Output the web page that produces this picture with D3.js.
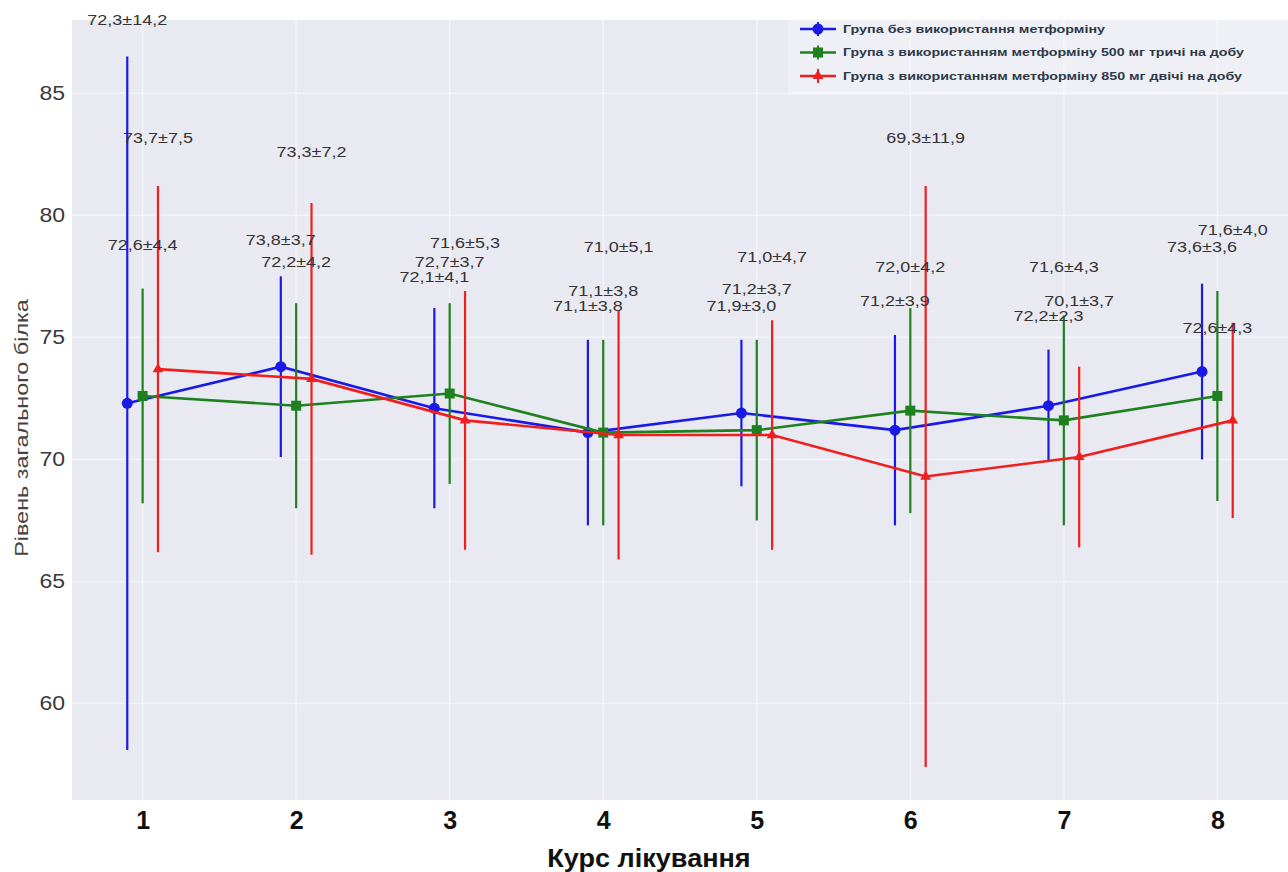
<!DOCTYPE html>
<html>
<head>
<meta charset="utf-8">
<script src="https://cdn.jsdelivr.net/npm/d3@7"></script>
<style>
  html, body { margin: 0; padding: 0; background: #ffffff; }
  svg { display: block; }
</style>
</head>
<body>
<svg id="chart" width="1288" height="872"></svg>
<script>
// Treatment courses
const courses = [1, 2, 3, 4, 5, 6, 7, 8];
const xTicks = [1, 2, 3, 4, 5, 6, 7, 8];
const yTicks = [60, 65, 70, 75, 80, 85];

// Group names
const seriesNames = [
  "Група без використання метформіну",
  "Група з використанням метформіну 500 мг тричі на добу",
  "Група з використанням метформіну 850 мг двічі на добу"
];

// Mean total protein level per course
const meanNoMetformin = [72.3, 73.8, 72.1, 71.1, 71.9, 71.2, 72.2, 73.6];
const mean500 = [72.6, 72.2, 72.7, 71.1, 71.2, 72.0, 71.6, 72.6];
const mean850 = [73.7, 73.3, 71.6, 71.0, 71.0, 69.3, 70.1, 71.6];

// Standard deviation per course
const sdNoMetformin = [14.2, 3.7, 4.1, 3.8, 3.0, 3.9, 2.3, 3.6];
const sd500 = [4.4, 4.2, 3.7, 3.8, 3.7, 4.2, 4.3, 4.3];
const sd850 = [7.5, 7.2, 5.3, 5.1, 4.7, 11.9, 3.7, 4.0];

const xLabel = "Курс лікування";
const yLabel = "Рівень загального білка";

// ---- layout / style ----
const plot = { left: 72, right: 1288, top: 20, bottom: 800 };
const colors = ["#1a1ae6", "#1f801f", "#f01e1e"];
const xShift = [-0.1, 0, 0.1];
// vertical lift of each value label above its whisker, in data units
const labelLift = [
  [1.5, 1.5, 1.3, 1.4, 1.4, 1.4, 1.4, 1.5],
  [1.8, 1.7, 1.7, 2.0, 2.1, 1.7, 2.0, -1.5],
  [2.0, 2.1, 2.0, 2.6, 2.6, 2.0, 2.7, 3.8]
];

const series = [
  { name: seriesNames[0], mean: meanNoMetformin, sd: sdNoMetformin },
  { name: seriesNames[1], mean: mean500, sd: sd500 },
  { name: seriesNames[2], mean: mean850, sd: sd850 }
];

const svg = d3.select("#chart");

const x = d3.scaleLinear().domain([0.54, 8.46]).range([plot.left, plot.right]);
const y = d3.scaleLinear().domain([56.05, 88.0]).range([plot.bottom, plot.top]);

const fmt = v => v.toFixed(1).replace(".", ",");

// stretch a text element horizontally by a factor
function widen(sel, k) {
  sel.each(function () {
    const w = this.getComputedTextLength();
    d3.select(this).attr("textLength", w * k).attr("lengthAdjust", "spacingAndGlyphs");
  });
}

// plot background
svg.append("rect")
  .attr("x", plot.left).attr("y", plot.top)
  .attr("width", plot.right - plot.left).attr("height", plot.bottom - plot.top)
  .attr("fill", "#e9e9f2");

// grid (faint)
const grid = svg.append("g").attr("stroke", "#ffffff").attr("stroke-opacity", 0.45).attr("stroke-width", 1.5);
grid.selectAll("line.h").data(yTicks).join("line")
  .attr("x1", plot.left).attr("x2", plot.right)
  .attr("y1", d => y(d)).attr("y2", d => y(d));
grid.selectAll("line.v").data(xTicks).join("line")
  .attr("y1", plot.top).attr("y2", plot.bottom)
  .attr("x1", d => x(d)).attr("x2", d => x(d));

// axes (no domain line, no tick marks)
const yAxis = svg.append("g")
  .attr("transform", `translate(${plot.left},0)`)
  .call(d3.axisLeft(y).tickValues(yTicks).tickSize(0).tickPadding(7).tickFormat(d3.format("d")));
yAxis.select(".domain").remove();
yAxis.selectAll("text")
  .attr("font-family", "Liberation Sans, Arial, sans-serif")
  .attr("font-size", 20).attr("fill", "#3a3a3a");
yAxis.selectAll("text").call(widen, 1.15);

const xAxis = svg.append("g")
  .attr("transform", `translate(0,${plot.bottom})`)
  .call(d3.axisBottom(x).tickValues(xTicks).tickSize(0).tickPadding(11).tickFormat(d3.format("d")));
xAxis.select(".domain").remove();
xAxis.selectAll("text")
  .attr("font-family", "Liberation Sans, Arial, sans-serif")
  .attr("font-weight", "bold")
  .attr("font-size", 25).attr("fill", "#111111");

// axis titles
svg.append("text")
  .attr("x", 649).attr("y", 867)
  .attr("text-anchor", "middle")
  .attr("font-family", "Liberation Sans, Arial, sans-serif")
  .attr("font-weight", "bold").attr("font-size", 26).attr("fill", "#111111")
  .text(xLabel)
  .call(widen, 1.04);

svg.append("text")
  .attr("transform", "translate(28,428) rotate(-90)")
  .attr("text-anchor", "middle")
  .attr("font-family", "Liberation Sans, Arial, sans-serif")
  .attr("font-size", 18).attr("fill", "#444444")
  .text(yLabel)
  .call(widen, 1.3);

// series: error bars, connecting lines, markers
const markerSymbols = [d3.symbolCircle, d3.symbolSquare, d3.symbolTriangle];
const markerSizes = [95, 100, 50];

series.forEach((s, i) => {
  const g = svg.append("g");
  const pts = courses.map((c, j) => ({ c: c + xShift[i], m: s.mean[j], sd: s.sd[j] }));

  g.selectAll("line.err").data(pts).join("line")
    .attr("x1", d => x(d.c)).attr("x2", d => x(d.c))
    .attr("y1", d => y(d.m - d.sd)).attr("y2", d => y(d.m + d.sd))
    .attr("stroke", colors[i]).attr("stroke-width", 2.2);

  g.append("path")
    .datum(pts)
    .attr("fill", "none")
    .attr("stroke", colors[i]).attr("stroke-width", 2.6)
    .attr("d", d3.line().x(d => x(d.c)).y(d => y(d.m)));

  g.selectAll("path.mk").data(pts).join("path")
    .attr("transform", d => `translate(${x(d.c)},${y(d.m)})`)
    .attr("d", d3.symbol().type(markerSymbols[i]).size(markerSizes[i]))
    .attr("fill", colors[i]);
});

// value labels
series.forEach((s, i) => {
  svg.append("g").selectAll("text")
    .data(courses.map((c, j) => ({ c: c + xShift[i], m: s.mean[j], sd: s.sd[j], lift: labelLift[i][j] })))
    .join("text")
    .attr("x", d => x(d.c))
    .attr("y", d => y(d.m + d.sd + d.lift))
    .attr("dy", "0.35em")
    .attr("text-anchor", "middle")
    .attr("font-family", "Liberation Sans, Arial, sans-serif")
    .attr("font-size", 15.5).attr("fill", "#333333")
    .text(d => `${fmt(d.m)}±${fmt(d.sd)}`)
    .call(widen, 1.16);
});

// legend
const legend = svg.append("g");
legend.append("rect")
  .attr("x", 788).attr("y", 18).attr("width", 500).attr("height", 77)
  .attr("fill", "#ffffff").attr("fill-opacity", 0.3);
const legendWidths = [262, 401, 399];
series.forEach((s, i) => {
  const ly = 29 + i * 23.5;
  legend.append("line")
    .attr("x1", 800).attr("x2", 836).attr("y1", ly).attr("y2", ly)
    .attr("stroke", colors[i]).attr("stroke-width", 2.6);
  legend.append("line")
    .attr("x1", 818).attr("x2", 818).attr("y1", ly - 7).attr("y2", ly + 7)
    .attr("stroke", colors[i]).attr("stroke-width", 2);
  legend.append("path")
    .attr("transform", `translate(818,${ly})`)
    .attr("d", d3.symbol().type(markerSymbols[i]).size(markerSizes[i]))
    .attr("fill", colors[i]);
  legend.append("text")
    .attr("x", 843).attr("y", ly).attr("dy", "0.35em")
    .attr("font-family", "Liberation Sans, Arial, sans-serif")
    .attr("font-weight", "bold").attr("font-size", 11).attr("fill", "#2c3a48")
    .attr("textLength", legendWidths[i]).attr("lengthAdjust", "spacingAndGlyphs")
    .text(s.name);
});
</script>
</body>
</html>
